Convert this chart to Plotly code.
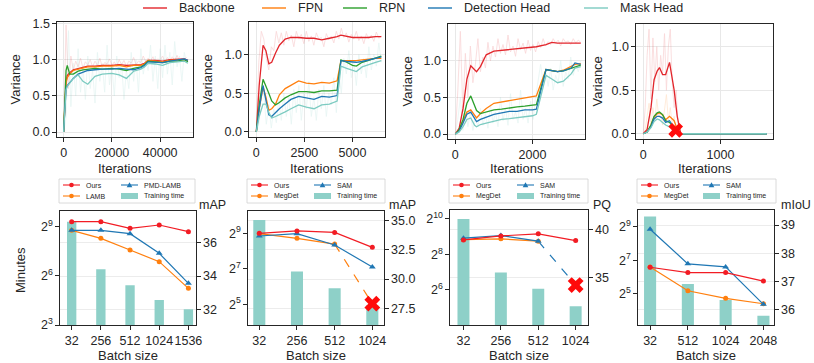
import plotly.graph_objects as go

W, H = 814, 363
FONT = "Liberation Sans, Arial, sans-serif"
INK = "#262626"

RED = "#e2262c"
ORANGE = "#ff7f0e"
GREEN = "#2ca02c"
BLUE = "#1f77b4"
TEAL = "#7ccbc1"
OURS = "#f21c24"
BAR = "#8ed0c8"

MODULES = ["Backbone", "FPN", "RPN", "Detection Head", "Mask Head"]
MODULE_COLORS = [RED, ORANGE, GREEN, BLUE, TEAL]

# %% top row: smoothed variance per module vs iterations
p1_iter = [0, 1000, 1500, 2500, 4000, 6000, 8000, 10000, 13000, 16000, 20000, 23000,
           26000, 29000, 32000, 33500, 35000, 38000, 41000, 44000, 47000, 50000, 51500]
p1_backbone = [0, 0.7, 0.78, 0.82, 0.86, 0.88, 0.9, 0.91, 0.91, 0.92, 0.92, 0.93,
               0.92, 0.93, 0.93, 0.95, 0.99, 0.99, 0.98, 1.0, 1.0, 1.01, 0.99]
p1_fpn = [0, 0.68, 0.75, 0.8, 0.85, 0.87, 0.89, 0.9, 0.9, 0.91, 0.91, 0.92,
          0.9, 0.92, 0.92, 0.94, 0.99, 0.98, 0.97, 0.99, 0.99, 1.0, 0.98]
p1_rpn = [0, 0.85, 0.92, 0.8, 0.8, 0.84, 0.86, 0.87, 0.88, 0.87, 0.88, 0.87,
          0.85, 0.88, 0.9, 0.93, 0.98, 0.97, 0.96, 0.98, 0.98, 1.0, 0.97]
p1_det = [0, 0.6, 0.64, 0.68, 0.74, 0.8, 0.83, 0.85, 0.86, 0.87, 0.87, 0.88,
          0.87, 0.86, 0.89, 0.92, 0.97, 0.97, 0.96, 0.98, 0.99, 1.01, 0.99]
p1_mask = [0, 0.58, 0.63, 0.68, 0.74, 0.79, 0.7, 0.66, 0.77, 0.8, 0.81, 0.79,
           0.74, 0.84, 0.87, 0.9, 0.95, 0.94, 0.92, 0.96, 0.97, 0.98, 0.95]

p2_iter = [0, 150, 350, 500, 650, 800, 1000, 1200, 1500, 1800, 2200, 2600,
           3000, 3400, 3800, 4200, 4400, 4700, 5000, 5200, 5500, 5800, 6200, 6500]
p2_backbone = [0, 0.6, 1.12, 1.05, 0.88, 0.9, 1.02, 1.12, 1.2, 1.22, 1.22, 1.21,
               1.21, 1.19, 1.21, 1.23, 1.25, 1.23, 1.22, 1.22, 1.22, 1.22, 1.23, 1.23]
p2_fpn = [0, 0.3, 0.58, 0.45, 0.28, 0.3, 0.36, 0.48, 0.56, 0.6, 0.66, 0.63,
          0.62, 0.64, 0.63, 0.66, 0.92, 0.92, 0.92, 0.92, 0.93, 0.94, 0.95, 0.95]
p2_rpn = [0, 0.35, 0.68, 0.6, 0.5, 0.4, 0.35, 0.38, 0.44, 0.48, 0.52, 0.52,
          0.51, 0.53, 0.53, 0.54, 0.93, 0.9, 0.86, 0.85, 0.9, 0.92, 0.96, 0.98]
p2_det = [0, 0.3, 0.6, 0.4, 0.22, 0.2, 0.25, 0.3, 0.36, 0.42, 0.46, 0.44,
          0.42, 0.46, 0.45, 0.47, 0.92, 0.91, 0.9, 0.9, 0.91, 0.93, 0.96, 0.97]
p2_mask = [0, 0.2, 0.36, 0.36, 0.25, 0.18, 0.2, 0.22, 0.26, 0.3, 0.35, 0.32,
           0.3, 0.35, 0.36, 0.4, 0.85, 0.82, 0.8, 0.78, 0.84, 0.87, 0.9, 0.92]

p3_iter = [0, 100, 200, 300, 400, 500, 550, 650, 800, 1000, 1200, 1400,
           1600, 1800, 2000, 2100, 2350, 2500, 2650, 2800, 3000, 3100, 3250]
p3_backbone = [0, 0.08, 0.35, 0.75, 0.93, 0.88, 0.85, 0.92, 1.08, 1.13, 1.14, 1.15,
               1.16, 1.17, 1.18, 1.19, 1.22, 1.25, 1.24, 1.24, 1.24, 1.24, 1.24]
p3_fpn = [0, 0.05, 0.18, 0.3, 0.33, 0.25, 0.22, 0.28, 0.35, 0.42, 0.44, 0.45,
          0.48, 0.5, 0.51, 0.52, 0.88, 0.87, 0.85, 0.87, 0.93, 0.95, 0.96]
p3_rpn = [0, 0.06, 0.2, 0.42, 0.52, 0.4, 0.32, 0.28, 0.3, 0.33, 0.34, 0.36,
          0.37, 0.38, 0.39, 0.4, 0.88, 0.87, 0.85, 0.86, 0.9, 0.92, 0.94]
p3_det = [0, 0.04, 0.15, 0.27, 0.3, 0.2, 0.17, 0.2, 0.23, 0.27, 0.29, 0.31,
          0.31, 0.33, 0.33, 0.34, 0.88, 0.86, 0.85, 0.86, 0.9, 0.97, 0.95]
p3_mask = [0, 0.03, 0.1, 0.2, 0.22, 0.12, 0.1, 0.13, 0.15, 0.18, 0.2, 0.21,
           0.22, 0.23, 0.25, 0.27, 0.8, 0.75, 0.7, 0.72, 0.82, 0.9, 0.92]

p4_iter = [0, 50, 100, 140, 180, 210, 250, 290, 340, 400, 440, 485, 600, 900, 1200, 1600]
p4_backbone = [0, 0.05, 0.3, 0.62, 0.72, 0.76, 0.68, 0.68, 0.82, 0.5, 0.2, 0, 0, 0, 0, 0]
p4_fpn = [0, 0.02, 0.1, 0.19, 0.23, 0.24, 0.22, 0.16, 0.2, 0.15, 0.05, 0, 0, 0, 0, 0]
p4_rpn = [0, 0.02, 0.1, 0.2, 0.24, 0.25, 0.22, 0.15, 0.13, 0.06, 0.02, 0, 0, 0, 0, 0]
p4_det = [0, 0.02, 0.08, 0.17, 0.2, 0.2, 0.18, 0.13, 0.15, 0.08, 0.02, 0, 0, 0, 0, 0]
p4_mask = [0, 0.02, 0.07, 0.14, 0.17, 0.16, 0.13, 0.1, 0.08, 0.05, 0.0, 0, 0, 0, 0, 0]
p4_fail_iter, p4_fail_var = 420, 0.04

# raw (unsmoothed) logs
p1_raw_iter = list(range(0, 52000, 1000))
p1_raw_backbone = [0, 1.48, 0.6, 1.05, 0.85, 0.98, 0.9, 1.02, 0.88, 0.97, 0.93, 1.0, 0.9,
                   0.98, 0.92, 1.02, 0.9, 0.96, 0.94, 1.01, 0.92, 0.97, 0.9, 1.0, 0.93, 0.99,
                   0.91, 0.98, 0.95, 1.03, 0.93, 0.98, 0.96, 1.05, 0.97, 1.02, 0.98, 1.04,
                   0.96, 1.01, 0.99, 1.05, 0.97, 1.03, 0.98, 1.04, 0.99, 1.06, 0.97, 1.02, 1.0, 1.03]
p1_raw_mask = [0, 0.2, 1.4, 0.35, 0.95, 0.5, 1.15, 0.55, 0.9, 0.45, 1.05, 0.6, 0.85, 0.4,
               1.1, 0.7, 0.95, 0.55, 1.2, 0.65, 0.9, 0.5, 1.05, 0.75, 0.95, 0.45, 0.85, 0.6,
               1.1, 0.7, 1.0, 0.55, 1.15, 0.8, 1.0, 0.85, 1.2, 0.7, 1.05, 0.6, 1.15, 0.75,
               1.2, 0.8, 1.1, 0.65, 1.25, 0.9, 1.05, 0.7, 1.1, 0.95]

p2_raw_iter = list(range(0, 6600, 130))
p2_raw_backbone = [0, 0.9, 1.3, 1.2, 0.95, 0.8, 1.1, 1.05, 1.3, 1.15, 1.28, 1.12, 1.3, 1.18,
                   1.25, 1.1, 1.3, 1.2, 1.26, 1.14, 1.3, 1.17, 1.24, 1.12, 1.28, 1.2, 1.22,
                   1.1, 1.27, 1.19, 1.24, 1.15, 1.3, 1.2, 1.34, 1.22, 1.28, 1.16, 1.26, 1.2,
                   1.3, 1.18, 1.24, 1.14, 1.27, 1.2, 1.25, 1.17, 1.29, 1.21, 1.24]
p2_raw_mask = [0, 0.1, 0.45, 0.5, 0.1, 0.35, 0.05, 0.3, 0.12, 0.42, 0.15, 0.5, 0.2, 0.45,
               0.1, 0.55, 0.25, 0.6, 0.15, 0.5, 0.3, 0.65, 0.2, 0.45, 0.15, 0.55, 0.3, 0.6,
               0.2, 0.5, 0.35, 0.7, 0.25, 0.75, 0.5, 0.95, 0.75, 1.05, 0.7, 0.9, 0.6, 1.0,
               0.75, 0.95, 0.7, 1.1, 0.8, 1.0, 0.85, 1.15, 0.9]

p3_raw_iter = list(range(0, 3300, 65))
p3_raw_backbone = [0, 0.6, 1.4, 0.3, 1.1, 0.5, 1.2, 0.7, 0.95, 1.3, 0.85, 1.05, 0.9, 1.25,
                   1.0, 1.2, 1.05, 1.3, 1.1, 1.22, 1.08, 1.35, 1.12, 1.2, 1.06, 1.3, 1.15,
                   1.24, 1.1, 1.28, 1.14, 1.22, 1.12, 1.26, 1.18, 1.3, 1.2, 1.26, 1.22, 1.3,
                   1.24, 1.28, 1.2, 1.3, 1.25, 1.27, 1.22, 1.3, 1.24, 1.28, 1.25]
p3_raw_mask = [0, 0.2, 0.5, 0.05, 0.4, 0.1, 0.3, 0.05, 0.25, 0.1, 0.35, 0.12, 0.28, 0.08,
               0.4, 0.15, 0.3, 0.1, 0.5, 0.18, 0.35, 0.12, 0.55, 0.2, 0.3, 0.15, 0.6, 0.2,
               0.35, 0.15, 0.45, 0.2, 0.5, 0.75, 0.95, 0.7, 0.85, 0.65, 0.9, 0.6, 0.8, 0.7,
               1.0, 0.65, 0.85, 0.75, 1.05, 0.8, 0.95, 0.85, 1.0]

p4_raw_iter = list(range(0, 525, 25))
p4_raw_backbone = [0, 0.3, 0.9, 1.2, 0.4, 1.1, 0.6, 1.0, 0.5, 0.9, 0.7, 1.15, 0.5, 1.0,
                   1.2, 0.6, 0.3, 0.5, 0.1, 0.05, 0]
p4_raw_fpn = [0, 0.05, 0.2, 0.35, 0.1, 0.3, 0.15, 0.4, 0.2, 0.25, 0.1, 0.3, 0.45, 0.15,
              0.3, 0.1, 0.2, 0.05, 0.02, 0, 0]

# %% bottom row: training time (bars, minutes) and accuracy (lines)
p5_batch = ["32", "256", "512", "1024", "1536"]
p5_minutes = [630, 85, 43, 23, 15.6]
p5_ours = [37.26, 37.26, 36.86, 37.06, 36.66]
p5_lamb = [36.74, 36.26, 35.56, 34.86, 33.26]
p5_pmd_lamb = [36.74, 36.74, 36.54, 35.36, 33.56]

p6_batch = ["32", "256", "512", "1024"]
p6_minutes = [861, 115, 60, 31]
p6_ours = [33.92, 34.12, 34.0, 32.72]
p6_sam = [33.69, 33.89, 32.92, 31.03]
p6_megdet = [33.89, 33.49, 33.0]
p6_megdet_fail = 27.9

p7_batch = ["32", "256", "512", "1024"]
p7_minutes = [1024, 127, 67, 34]
p7_ours = [38.89, 39.31, 39.52, 38.82]
p7_sam = [39.07, 39.34, 38.76]
p7_sam_fail = 34.2
p7_megdet = [38.93, 39.0, 38.76]

p8_batch = ["32", "512", "1024", "2048"]
p8_minutes = [776, 48, 25, 13]
p8_ours = [37.51, 37.32, 37.32, 37.02]
p8_sam = [38.85, 37.63, 37.52, 36.2]
p8_megdet = [37.52, 36.68, 36.41, 36.22]


def px(v):
    return v / W


def py(v):
    return 1 - v / H


fig = go.Figure()

# %% top row traces
top_panels = [
    (p1_iter, [p1_backbone, p1_fpn, p1_rpn, p1_det, p1_mask],
     p1_raw_iter, [(p1_raw_backbone, RED), (p1_raw_mask, TEAL)]),
    (p2_iter, [p2_backbone, p2_fpn, p2_rpn, p2_det, p2_mask],
     p2_raw_iter, [(p2_raw_backbone, RED), (p2_raw_mask, TEAL)]),
    (p3_iter, [p3_backbone, p3_fpn, p3_rpn, p3_det, p3_mask],
     p3_raw_iter, [(p3_raw_backbone, RED), (p3_raw_mask, TEAL)]),
    (p4_iter, [p4_backbone, p4_fpn, p4_rpn, p4_det, p4_mask],
     p4_raw_iter, [(p4_raw_backbone, RED), (p4_raw_fpn, ORANGE)]),
]
for i, (it, series, raw_it, raws) in enumerate(top_panels, start=1):
    xa, ya = f"x{i}", f"y{i}"
    for vals, color in raws:
        fig.add_trace(go.Scatter(x=raw_it, y=vals, xaxis=xa, yaxis=ya, mode="lines",
                                 line=dict(color=color, width=0.8), opacity=0.18))
    for name, vals, color in zip(MODULES, series, MODULE_COLORS):
        fig.add_trace(go.Scatter(x=it, y=vals, xaxis=xa, yaxis=ya, mode="lines", name=name,
                                 line=dict(color=color, width=1.3)))

fig.add_trace(go.Scatter(x=[p4_fail_iter], y=[p4_fail_var], xaxis="x4", yaxis="y4",
                         mode="markers", marker=dict(symbol="x", size=13, color="#ff0a0a",
                                                     line=dict(width=0))))

# %% bottom row traces
def line_trace(x, y, n, color, symbol="circle", dash="solid", size=5):
    return go.Scatter(x=x, y=y, xaxis=f"x{n}", yaxis=f"y{n + 4}", mode="lines+markers",
                      line=dict(color=color, width=1.2, dash=dash),
                      marker=dict(symbol=symbol, size=size, color=color))


def dashed(x, y, n, color):
    return go.Scatter(x=x, y=y, xaxis=f"x{n}", yaxis=f"y{n + 4}", mode="lines",
                      line=dict(color=color, width=1.2, dash="dash"))


def fail_mark(x, y, n):
    return go.Scatter(x=[x], y=[y], xaxis=f"x{n}", yaxis=f"y{n + 4}", mode="markers",
                      marker=dict(symbol="x", size=14, color="#ff0a0a", line=dict(width=0)))


for n, batch, minutes in [(5, p5_batch, p5_minutes), (6, p6_batch, p6_minutes),
                          (7, p7_batch, p7_minutes), (8, p8_batch, p8_minutes)]:
    fig.add_trace(go.Bar(x=batch, y=minutes, xaxis=f"x{n}", yaxis=f"y{n}",
                         marker=dict(color=BAR, line=dict(width=0)), width=0.32))

fig.add_trace(line_trace(p5_batch, p5_lamb, 5, ORANGE))
fig.add_trace(line_trace(p5_batch, p5_pmd_lamb, 5, BLUE, "triangle-up", size=6))
fig.add_trace(line_trace(p5_batch, p5_ours, 5, OURS))

fig.add_trace(dashed([p6_batch[2], p6_batch[3]], [p6_megdet[-1], p6_megdet_fail], 6, ORANGE))
fig.add_trace(line_trace(p6_batch[:3], p6_megdet, 6, ORANGE))
fig.add_trace(line_trace(p6_batch, p6_sam, 6, BLUE, "triangle-up", size=6))
fig.add_trace(line_trace(p6_batch, p6_ours, 6, OURS))
fig.add_trace(fail_mark(p6_batch[3], p6_megdet_fail, 6))

fig.add_trace(dashed([p7_batch[2], p7_batch[3]], [p7_sam[-1], p7_sam_fail], 7, BLUE))
fig.add_trace(line_trace(p7_batch[:3], p7_megdet, 7, ORANGE))
fig.add_trace(line_trace(p7_batch[:3], p7_sam, 7, BLUE, "triangle-up", size=6))
fig.add_trace(line_trace(p7_batch, p7_ours, 7, OURS))
fig.add_trace(fail_mark(p7_batch[3], p7_sam_fail, 7))

fig.add_trace(line_trace(p8_batch, p8_megdet, 8, ORANGE))
fig.add_trace(line_trace(p8_batch, p8_sam, 8, BLUE, "triangle-up", size=6))
fig.add_trace(line_trace(p8_batch, p8_ours, 8, OURS))

# %% axes
def frame(**kw):
    base = dict(showline=True, mirror=True, linecolor=INK, linewidth=1.1, ticks="outside",
                ticklen=3.5, tickwidth=0.9, tickcolor=INK, tickfont=dict(size=12.5, color=INK),
                zeroline=False, automargin=False, showgrid=False)
    base.update(kw)
    return base


GRID = dict(showgrid=True, gridcolor="#e8e8e8", gridwidth=0.8)
layout = {}

top_boxes = [(57, 193, 22, 137), (249, 385, 22, 137), (448, 585, 24, 139), (636, 773, 24, 139)]
top_xr = [[-2750, 53600], [-380, 6690], [-190, 3360], [-94, 1680]]
top_yr = [[-0.069, 1.52], [-0.065, 1.42], [-0.067, 1.5], [-0.06, 1.26]]
top_xt = [[0, 20000, 40000], [0, 2500, 5000], [0, 2000], [0, 1000]]
top_yt = [[0, 0.5, 1.0, 1.5], [0, 0.5, 1.0], [0, 0.5, 1.0], [0, 0.5, 1.0]]
for i, (x0, x1, y0, y1) in enumerate(top_boxes, start=1):
    sfx = "" if i == 1 else str(i)
    layout[f"xaxis{sfx}"] = frame(domain=[px(x0), px(x1)], anchor=f"y{i}", range=top_xr[i - 1],
                                  tickvals=top_xt[i - 1], tickformat="d", **GRID)
    layout[f"yaxis{sfx}"] = frame(domain=[py(y1), py(y0)], anchor=f"x{i}", range=top_yr[i - 1],
                                  tickvals=top_yt[i - 1], tickformat=".1f", **GRID)

bot_boxes = [(60, 196, 211, 325), (248, 384, 211, 325), (450, 588, 210, 325), (638, 774, 210, 325)]
bot_xr = [[-0.4, 4.26], [-0.3, 3.31], [-0.36, 3.33], [-0.32, 3.28]]
bot_log2 = [[3, 9.96], [3.83, 10.26], [4.03, 10.5], [3.15, 9.99]]
bot_lt = [[8, 64, 512], [32, 128, 512], [64, 256, 1024], [32, 128, 512]]
bot_lt_txt = [["2<sup>3</sup>", "2<sup>6</sup>", "2<sup>9</sup>"],
              ["2<sup>5</sup>", "2<sup>7</sup>", "2<sup>9</sup>"],
              ["2<sup>6</sup>", "2<sup>8</sup>", "2<sup>10</sup>"],
              ["2<sup>5</sup>", "2<sup>7</sup>", "2<sup>9</sup>"]]
bot_rr = [[31.06, 37.9], [26.07, 35.83], [30.05, 42.0], [35.47, 39.53]]
bot_rt = [[32, 34, 36], [27.5, 30, 32.5, 35], [30, 35, 40], [36, 37, 38, 39]]
bot_rfmt = ["d", ".1f", "d", "d"]
LOG2 = 0.30103
for k, (x0, x1, y0, y1) in enumerate(bot_boxes):
    n = k + 5
    layout[f"xaxis{n}"] = frame(domain=[px(x0), px(x1)], anchor=f"y{n}", type="category",
                                range=bot_xr[k], tickangle=0)
    layout[f"yaxis{n}"] = frame(domain=[py(y1), py(y0)], anchor=f"x{n}", type="log",
                                range=[bot_log2[k][0] * LOG2, bot_log2[k][1] * LOG2],
                                tickvals=bot_lt[k], ticktext=bot_lt_txt[k])
    layout[f"yaxis{n + 4}"] = frame(overlaying=f"y{n}", anchor=f"x{n}", side="right",
                                    mirror=False, range=bot_rr[k], tickvals=bot_rt[k],
                                    tickformat=bot_rfmt[k], showgrid=True,
                                    gridcolor="#ececec", gridwidth=0.8)

# %% titles and legends (drawn as annotations/shapes to keep matplotlib proportions)
ann = []
shapes = []


def text(x, y, s, size=13, xanchor="center", angle=0):
    ann.append(dict(x=px(x), y=py(y), xref="paper", yref="paper", text=s, showarrow=False,
                    xanchor=xanchor, yanchor="middle", textangle=angle,
                    font=dict(size=size, color=INK, family=FONT)))


for (x0, x1, y0, y1), lx in zip(top_boxes, [15, 207, 407, 597]):
    text(lx, (y0 + y1) / 2, "Variance", angle=-90)
    text((x0 + x1) / 2, 168, "Iterations")
for (x0, x1, y0, y1), rt, rx in zip(bot_boxes, ["mAP", "mAP", "PQ", "mIoU"], [197, 387, 591, 779]):
    text((x0 + x1) / 2, 355, "Batch size")
    text(rx, 205, rt, size=12.5, xanchor="left")
text(20, 270, "Minutes", angle=-90)

# top legend
for name, color, lx in zip(MODULES, MODULE_COLORS, [143, 262, 343, 428, 584]):
    shapes.append(dict(type="line", xref="paper", yref="paper", x0=px(lx), x1=px(lx + 24),
                       y0=py(8), y1=py(8), line=dict(color=color, width=1.4)))
    text(lx + 34, 8, name, size=12.5, xanchor="left")


def marker_shape(cx, cy, color, symbol):
    if symbol == "circle":
        shapes.append(dict(type="circle", xref="paper", yref="paper", xsizemode="pixel",
                           ysizemode="pixel", xanchor=px(cx), yanchor=py(cy), x0=-2.3, x1=2.3,
                           y0=-2.3, y1=2.3, fillcolor=color, line=dict(width=0)))
    else:
        shapes.append(dict(type="path", xref="paper", yref="paper", xsizemode="pixel",
                           ysizemode="pixel", xanchor=px(cx), yanchor=py(cy),
                           path="M -2.8,-2.2 L 2.8,-2.2 L 0,2.8 Z", fillcolor=color,
                           line=dict(width=0)))


def bottom_legend(left, right, col2, labels):
    shapes.append(dict(type="rect", xref="paper", yref="paper", x0=px(left - 1), x1=px(right),
                       y0=py(203), y1=py(179), line=dict(color="#d0d0d0", width=0.8),
                       fillcolor="white"))
    items = [(labels[0], OURS, "circle", 3, 185), (labels[1], ORANGE, "circle", 3, 196),
             (labels[2], BLUE, "triangle", col2, 185)]
    for lab, color, sym, off, yy in items:
        shapes.append(dict(type="line", xref="paper", yref="paper", x0=px(left + off),
                           x1=px(left + off + 17), y0=py(yy), y1=py(yy),
                           line=dict(color=color, width=1.1)))
        marker_shape(left + off + 8.5, yy, color, sym)
        text(left + off + 21, yy, lab, size=7, xanchor="left")
    shapes.append(dict(type="rect", xref="paper", yref="paper", x0=px(left + col2),
                       x1=px(left + col2 + 17), y0=py(199), y1=py(193),
                       fillcolor=BAR, line=dict(width=0)))
    text(left + col2 + 21, 196, "Training time", size=7, xanchor="left")


bottom_legend(60, 195, 61, ["Ours", "LAMB", "PMD-LAMB"])
bottom_legend(248, 385, 66, ["Ours", "MegDet", "SAM"])
bottom_legend(450, 588, 67, ["Ours", "MegDet", "SAM"])
bottom_legend(638, 776, 65, ["Ours", "MegDet", "SAM"])

fig.update_layout(
    width=W, height=H, margin=dict(l=0, r=0, t=0, b=0),
    paper_bgcolor="white", plot_bgcolor="white", showlegend=False,
    font=dict(family=FONT, color=INK, size=12.5),
    annotations=ann, shapes=shapes, **layout,
)

# the page body has a default margin; drop it so the figure sits at the window origin
fig.write_html("out.html", config={"displayModeBar": False},
               post_script="document.body.style.margin='0px';")
